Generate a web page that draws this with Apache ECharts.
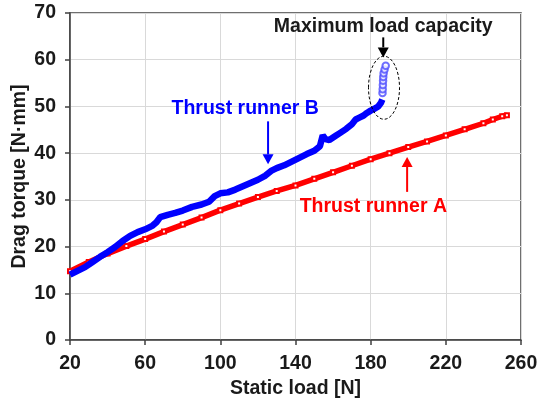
<!DOCTYPE html>
<html>
<head>
<meta charset="utf-8">
<script src="https://cdn.jsdelivr.net/npm/echarts@6/dist/echarts.min.js"></script>
<style>
html,body{margin:0;padding:0;background:#fff}
#chart{width:538px;height:404px}
</style>
</head>
<body>
<div id="chart"></div>
<script>
// Thrust runner A (red)
const loadA =   [20, 30, 40, 50, 60, 70, 80, 90, 100, 110, 120, 130, 140, 150, 160, 170, 180, 190, 200, 210, 220, 230, 240, 245, 250, 252.5];
const torqueA = [14.7, 16.7, 18.5, 20.1, 21.6, 23.2, 24.7, 26.2, 27.8, 29.2, 30.6, 31.9, 33.1, 34.5, 35.9, 37.3, 38.7, 40.0, 41.3, 42.5, 43.8, 45.1, 46.4, 47.2, 47.9, 48.1];

// Thrust runner B (blue)
const loadB =   [20, 24, 28, 32, 36, 40, 44, 48, 52, 56, 60, 64, 66, 68, 72, 76, 80, 85, 90, 94, 97, 100, 104, 108, 112, 116, 120, 124, 127, 130, 134, 138, 142, 146, 150, 153, 154.5, 156, 158, 161, 164, 167, 170, 172, 174, 176, 178, 180, 182, 184, 185.5, 186.2];
const torqueB = [14.0, 14.8, 15.6, 16.7, 17.8, 18.8, 19.9, 21.2, 22.3, 23.1, 23.7, 24.5, 25.2, 26.3, 26.8, 27.2, 27.7, 28.5, 29.0, 29.6, 30.8, 31.4, 31.6, 32.2, 32.9, 33.6, 34.3, 35.2, 36.2, 36.8, 37.4, 38.2, 39.0, 39.8, 40.5, 41.5, 43.8, 43.0, 42.8, 43.6, 44.4, 45.2, 46.2, 47.2, 47.6, 48.0, 48.6, 49.1, 49.5, 50.0, 50.8, 51.5];

// runner B points near maximum load capacity
const loadMax =   [186.3, 186.4, 186.5, 186.6, 186.7, 186.9, 187.4, 188.0];
const torqueMax = [52.9, 53.7, 54.6, 55.5, 56.3, 57.1, 57.9, 58.7];

const xTicks = [20, 60, 100, 140, 180, 220, 260];
const yTicks = [0, 10, 20, 30, 40, 50, 60, 70];

const FONT = 'Arial, "Liberation Sans", sans-serif';
const AXIS_COLOR = '#404040';

function pairs(xs, ys) {
    return xs.map((x, i) => [x, ys[i]]);
}

const chart = echarts.init(document.getElementById('chart'));

const option = {
    animation: false,
    grid: {
        left: 70, right: 17, top: 13, bottom: 64,
        outerBoundsMode: 'none', containLabel: false,
        show: true, borderColor: AXIS_COLOR, borderWidth: 1.5
    },
    xAxis: {
        type: 'value',
        min: xTicks[0], max: xTicks[xTicks.length - 1], interval: 40,
        name: 'Static load [N]',
        nameLocation: 'middle', nameGap: 37,
        nameTextStyle: { fontFamily: FONT, fontWeight: 'bold', fontSize: 19.5, color: '#1a1a1a' },
        axisLine: { lineStyle: { color: AXIS_COLOR, width: 1.5 } },
        axisTick: { show: true, inside: false, length: 5, lineStyle: { color: AXIS_COLOR, width: 1.5 } },
        axisLabel: { fontFamily: FONT, fontWeight: 'bold', fontSize: 19.5, color: '#1a1a1a', margin: 14 },
        splitLine: { show: true, lineStyle: { color: '#d9d9d9', width: 1 } }
    },
    yAxis: {
        type: 'value',
        min: yTicks[0], max: yTicks[yTicks.length - 1], interval: 10,
        name: 'Drag torque [N·mm]',
        nameLocation: 'middle', nameGap: 40, nameMoveOverlap: false,
        nameTextStyle: { fontFamily: FONT, fontWeight: 'bold', fontSize: 19.5, color: '#1a1a1a' },
        axisLine: { show: true, lineStyle: { color: AXIS_COLOR, width: 1.5 } },
        axisTick: { show: true, inside: false, length: 5, lineStyle: { color: AXIS_COLOR, width: 1.5 } },
        axisLabel: { fontFamily: FONT, fontWeight: 'bold', fontSize: 19.5, color: '#1a1a1a', margin: 14 },
        splitLine: { show: true, lineStyle: { color: '#d9d9d9', width: 1 } }
    },
    series: [
        {
            name: 'Thrust runner A',
            type: 'line',
            data: pairs(loadA, torqueA),
            symbol: 'emptyRect', symbolSize: 4, showSymbol: true,
            itemStyle: { color: '#ff0000', borderColor: '#ff6060', borderWidth: 1 },
            lineStyle: { color: '#ff0000', width: 5.5 },
            z: 2
        },
        {
            name: 'Thrust runner B',
            type: 'line',
            data: pairs(loadB, torqueB),
            showSymbol: false,
            lineStyle: { color: '#0000ff', width: 6.5 },
            z: 3
        },
        {
            name: 'Maximum load',
            type: 'scatter',
            data: pairs(loadMax, torqueMax),
            symbol: 'emptyCircle', symbolSize: 6.5,
            itemStyle: { color: '#4b4bff', borderColor: '#4b4bff', borderWidth: 1.1 },
            z: 4
        }
    ]
};

chart.setOption(option);

// annotations, anchored to data coordinates
const px = (x, y) => chart.convertToPixel({ gridIndex: 0 }, [x, y]);

function arrow(tail, tip, color, dir) {
    const head = 10, half = 5.5;
    const baseY = tip[1] - dir * head;
    return [
        { type: 'line', shape: { x1: tail[0], y1: tail[1], x2: tip[0], y2: baseY },
          style: { stroke: color, lineWidth: 2 }, z: 10 },
        { type: 'polygon', shape: { points: [[tip[0] - half, baseY], [tip[0] + half, baseY], [tip[0], tip[1]]] },
          style: { fill: color }, z: 10 }
    ];
}

const tipMax = px(186.7, 60.5);
const tipB = px(125.4, 37.6);
const tipA = px(199.4, 39.2);
const ell = px(187.1, 54.0);
const labelMax = px(186.7, 67.0);
const labelB = px(74.0, 49.5);
const labelA = px(142.2, 28.6);

const textStyle = (t, color, align) => ({
    text: t, fill: color, font: 'bold 19.5px ' + FONT,
    textAlign: align, textVerticalAlign: 'middle'
});

chart.setOption({
    graphic: [
        { type: 'text', x: labelMax[0], y: labelMax[1], style: textStyle('Maximum load capacity', '#1a1a1a', 'center'), z: 10 },
        ...arrow([tipMax[0], tipMax[1] - 20], tipMax, '#000000', 1),
        { type: 'ellipse', shape: { cx: ell[0], cy: ell[1], rx: 15.5, ry: 31.5 },
          style: { fill: 'none', stroke: '#000000', lineWidth: 1, lineDash: [3, 2] }, z: 10 },
        { type: 'text', x: labelB[0], y: labelB[1], style: textStyle('Thrust runner B', '#0000ff', 'left'), z: 10 },
        ...arrow([tipB[0], tipB[1] - 43], tipB, '#0000ff', 1),
        { type: 'text', x: labelA[0], y: labelA[1], style: textStyle('Thrust runner A', '#ff0000', 'left'), z: 10 },
        ...arrow([tipA[0], tipA[1] + 35], tipA, '#ff0000', -1)
    ]
});
</script>
</body>
</html>
